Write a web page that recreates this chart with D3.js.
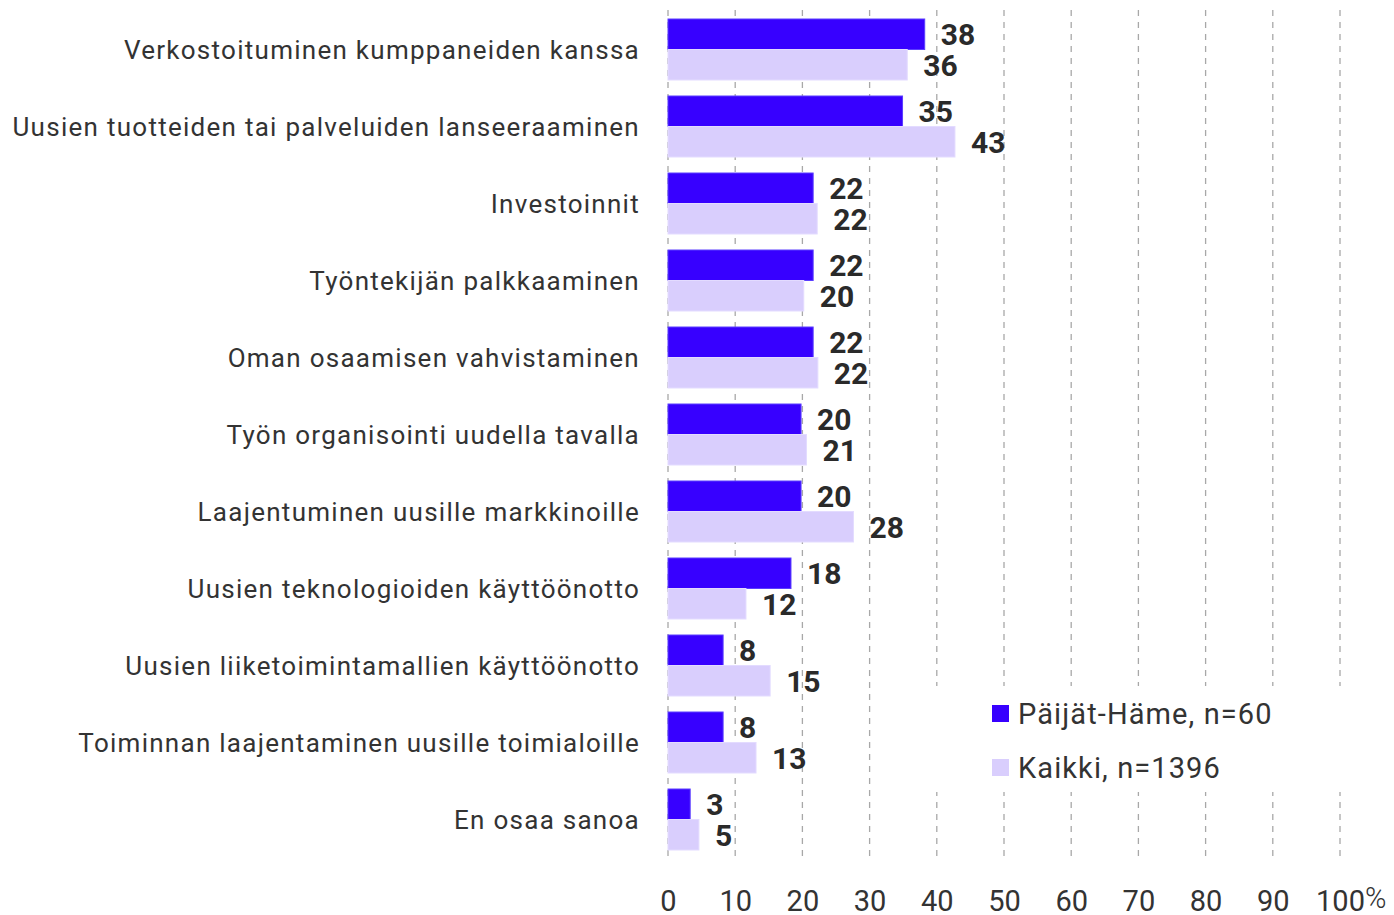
<!DOCTYPE html>
<html>
<head>
<meta charset="utf-8">
<script src="https://cdn.jsdelivr.net/npm/d3@7"></script>
<style>
  body { margin: 0; background: #fff; }
  text { font-family: Roboto, "Noto Sans", sans-serif; }
</style>
</head>
<body>
<script>
// DATA
const categories = [
    "Verkostoituminen kumppaneiden kanssa",
    "Uusien tuotteiden tai palveluiden lanseeraaminen",
    "Investoinnit",
    "Työntekijän palkkaaminen",
    "Oman osaamisen vahvistaminen",
    "Työn organisointi uudella tavalla",
    "Laajentuminen uusille markkinoille",
    "Uusien teknologioiden käyttöönotto",
    "Uusien liiketoimintamallien käyttöönotto",
    "Toiminnan laajentaminen uusille toimialoille",
    "En osaa sanoa"
];
const paijatHame = [38.2, 34.9, 21.6, 21.6, 21.6, 19.8, 19.8, 18.3, 8.2, 8.2, 3.3];
const kaikki = [35.6, 42.7, 22.2, 20.2, 22.3, 20.6, 27.6, 11.6, 15.2, 13.1, 4.6];
const seriesNames = ["Päijät-Häme, n=60", "Kaikki, n=1396"];
const tickValues = [0, 10, 20, 30, 40, 50, 60, 70, 80, 90, 100];

const colors = ["#3700ff", "#d9cefd"];
const strokes = ["#5a3dff", "#e3dbff"];

// SVG
const W = 1394, H = 915;
const svg = d3.select("body").append("svg")
    .attr("width", W)
    .attr("height", H);

// SCALES
const xScale = d3.scaleLinear()
    .domain([0, 100])
    .range([668, 1340]);

const yScale = d3.scaleBand()
    .domain(categories)
    .range([11, 858])
    .paddingInner(0.208)
    .paddingOuter(0.104);

const subScale = d3.scaleBand()
    .domain([0, 1])
    .range([0, yScale.bandwidth()]);

// GRIDLINES
svg.append("g")
    .selectAll("line")
    .data(tickValues)
    .join("line")
    .attr("x1", d => xScale(d))
    .attr("x2", d => xScale(d))
    .attr("y1", 10)
    .attr("y2", 856)
    .attr("stroke", "#a8a8a8")
    .attr("stroke-width", 1.3)
    .attr("stroke-dasharray", "6,6");

// AXIS LABELS
const xAxis = d3.axisBottom(xScale)
    .tickValues(tickValues)
    .tickSize(0)
    .tickPadding(0)
    .tickFormat(d => d);

const axisG = svg.append("g")
    .attr("transform", "translate(0,911)")
    .call(xAxis);
axisG.select(".domain").remove();
axisG.selectAll("text")
    .attr("y", 0)
    .attr("dy", 0)
    .attr("font-size", 29)
    .attr("fill", "#333")
    .style("font-family", "Roboto, sans-serif");

svg.append("text")
    .attr("x", 1365)
    .attr("y", 908)
    .attr("font-size", 29)
    .attr("font-weight", 300)
    .attr("fill", "#333")
    .text("%");

// CATEGORY LABELS
svg.append("g")
    .selectAll("text")
    .data(categories)
    .join("text")
    .attr("x", 640)
    .attr("y", d => yScale(d) + yScale.bandwidth() / 2)
    .attr("dy", "0.35em")
    .attr("text-anchor", "end")
    .attr("font-size", 26)
    .attr("letter-spacing", 1.27)
    .attr("fill", "#333")
    .text(d => d);

// BARS
const series = [paijatHame, kaikki];
series.forEach((vals, s) => {
    const g = svg.append("g");
    g.selectAll("rect")
        .data(vals)
        .join("rect")
        .attr("x", xScale(0))
        .attr("y", (d, i) => yScale(categories[i]) + subScale(s))
        .attr("width", d => xScale(d) - xScale(0))
        .attr("height", subScale.bandwidth())
        .attr("fill", colors[s])
        .attr("stroke", strokes[s])
        .attr("stroke-width", 1);

    g.selectAll("text")
        .data(vals)
        .join("text")
        .attr("x", d => xScale(d) + 16)
        .attr("y", (d, i) => yScale(categories[i]) + subScale(s) + subScale.bandwidth() / 2)
        .attr("dy", "0.37em")
        .attr("font-size", 30)
        .attr("font-weight", "bold")
        .attr("fill", "#2a2a2a")
        .text(d => Math.round(d));
});

// LEGEND
const legend = svg.append("g");
legend.append("rect")
    .attr("x", 900)
    .attr("y", 686)
    .attr("width", 494)
    .attr("height", 106)
    .attr("fill", "#fff");

seriesNames.forEach((name, i) => {
    legend.append("rect")
        .attr("x", 992)
        .attr("y", 705 + i * 54)
        .attr("width", 17)
        .attr("height", 17)
        .attr("fill", colors[i]);
    legend.append("text")
        .attr("x", 1018)
        .attr("y", 714 + i * 54)
        .attr("dy", "0.36em")
        .attr("font-size", 29)
        .attr("letter-spacing", 1.1)
        .attr("fill", "#333")
        .text(name);
});
</script>
</body>
</html>
